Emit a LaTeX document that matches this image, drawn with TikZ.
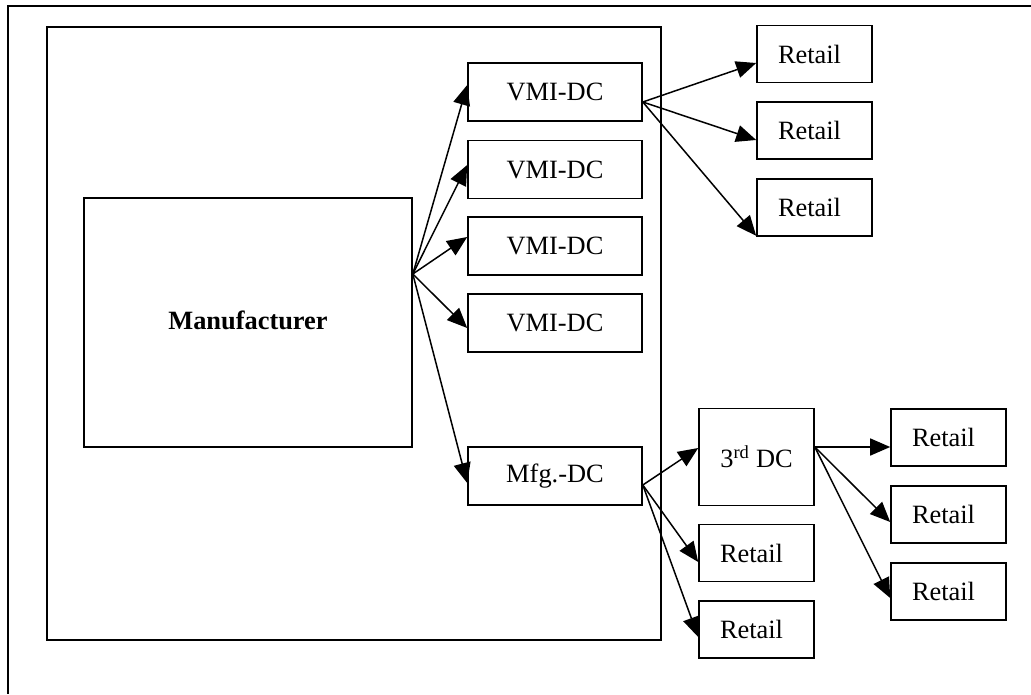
\documentclass[tikz,border=0pt]{standalone}
\usepackage{fontspec}
\setmainfont{Liberation Serif}
\usetikzlibrary{arrows.meta}
\begin{document}
\begin{tikzpicture}[x=1pt,y=-1pt,
  box/.style={draw,line width=1.6pt,inner sep=0pt,font=\fontsize{26.4}{30}\selectfont},
  frame/.style={draw,line width=1.7pt,inner sep=0pt},
  dcbox/.style={box,minimum width=174pt,minimum height=58pt},
  retail/.style={box,minimum height=57pt,text width=73pt,inner xsep=21pt,align=left},
  arr/.style={line width=1.5pt,-{Triangle[length=20pt,width=17pt]}}]
\useasboundingbox (0,0) rectangle (1031,694);
% page frame (top and left edges)
\coordinate (fa) at (1031,6);
\coordinate (fc) at (8,6);
\coordinate (fb) at (8,694);
\draw[line width=1.7pt] (fa) -- (fc) -- (fb);
% plant container
\node[frame,minimum width=614pt,minimum height=613pt] (plant) at (354,333.5) {};
% manufacturer
\node[box,minimum width=328pt,minimum height=249pt,font=\fontsize{26.4}{30}\selectfont\bfseries] (man) at (248,322.5) {\raisebox{5pt}{Manufacturer}};
% DCs
\node[dcbox] (vmi1) at (555,92) {VMI-DC};
\node[dcbox] (vmi2) at (555,169.5) {VMI-DC};
\node[dcbox] (vmi3) at (555,246) {VMI-DC};
\node[dcbox] (vmi4) at (555,323) {VMI-DC};
\node[dcbox] (mfg) at (555,476) {Mfg.-DC};
% retail of VMI-DC
\node[retail] (r1) at (814.5,54) {Retail};
\node[retail] (r2) at (814.5,130.5) {Retail};
\node[retail] (r3) at (814.5,207.5) {Retail};
% third-party DC
\node[box,minimum width=115pt,minimum height=97pt] (tdc) at (756.5,457) {\raisebox{-4pt}{3\textsuperscript{rd} DC}};
\node[retail] (rb1) at (756.5,553) {Retail};
\node[retail] (rb2) at (756.5,629.5) {Retail};
\node[retail] (ra) at (948.5,437.5) {Retail};
\node[retail] (rb) at (948.5,514.5) {Retail};
\node[retail] (rc) at (948.5,591.5) {Retail};
% arrows from manufacturer
\draw[arr] ([yshift=48.5pt]man.east) -- ([yshift=7pt]vmi1.west);
\draw[arr] ([yshift=48.5pt]man.east) -- ([yshift=4.5pt]vmi2.west);
\draw[arr] ([yshift=48.5pt]man.east) -- ([yshift=9pt]vmi3.west);
\draw[arr] ([yshift=48.5pt]man.east) -- ([yshift=-5pt]vmi4.west);
\draw[arr] ([yshift=48.5pt]man.east) -- ([yshift=-7pt]mfg.west);
% arrows from VMI-DC
\draw[arr] ([yshift=-10pt]vmi1.east) -- ([yshift=-9pt]r1.west);
\draw[arr] ([yshift=-10pt]vmi1.east) -- ([yshift=-9.5pt]r2.west);
\draw[arr] ([yshift=-10pt]vmi1.east) -- ([yshift=1pt]r3.south west);
% arrows from Mfg.-DC
\draw[arr] ([yshift=-9pt]mfg.east) -- ([yshift=9pt]tdc.west);
\draw[arr] ([yshift=-9pt]mfg.east) -- ([yshift=-9pt]rb1.west);
\draw[arr] ([yshift=-9pt]mfg.east) -- ([yshift=-7.5pt]rb2.west);
% arrows from 3rd DC
\draw[arr] ([yshift=10pt]tdc.east) -- ([yshift=-9.5pt]ra.west);
\draw[arr] ([yshift=10pt]tdc.east) -- ([yshift=-7.5pt]rb.west);
\draw[arr] ([yshift=10pt]tdc.east) -- ([yshift=-6.5pt]rc.west);
\end{tikzpicture}
\end{document}
